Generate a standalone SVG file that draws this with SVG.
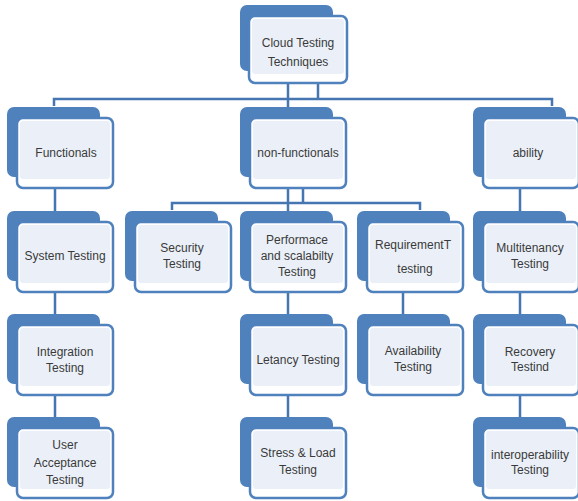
<svg xmlns="http://www.w3.org/2000/svg" width="578" height="501" viewBox="0 0 578 501">
  <style>
    .back { fill: #4f81bd; }
    .front { fill: #ffffff; stroke: #4f81bd; stroke-width: 2.5; }
    .inner { fill: #ebf0f8; }
    .link { fill: none; stroke: #4576b2; stroke-width: 2.5; }
    text { font-family: "Liberation Sans", Arial, sans-serif; font-size: 12px; fill: #3a3a3a; text-anchor: middle; }
  </style>
  <defs>
    <!-- stacked card: dark tab behind, light card in front -->
    <g id="card">
      <rect class="back" x="0" y="0" width="93" height="70" rx="7"/>
      <rect class="front" x="10" y="11" width="96" height="70" rx="6"/>
      <rect class="inner" x="13" y="14" width="90" height="58" rx="3"/>
    </g>
  </defs>

  <g id="connectors">
    <path class="link" d="M288,83 V99 M318,83 V99 M54,106 V99 H552 V106 M288,99 V107"/>
    <path class="link" d="M55,188 V211 M55,292 V314 M55,395 V417"/>
    <path class="link" d="M288,188 V203 M303,188 V203 M172,210 V203 H420 V210 M288,203 V211"/>
    <path class="link" d="M288,292 V314 M288,395 V417"/>
    <path class="link" d="M403,292 V314"/>
    <path class="link" d="M520,188 V211 M520,292 V314 M520,395 V417"/>
  </g>

  <g id="node-root">
    <rect class="back" x="240" y="5" width="93" height="66" rx="7"/>
    <rect class="front" x="249" y="16" width="98" height="67" rx="6"/>
    <rect class="inner" x="252" y="19" width="92" height="55" rx="3"/>
    <text x="298" y="47">Cloud Testing</text>
    <text x="298" y="66">Techniques</text>
  </g>

  <g id="node-functionals">
    <use href="#card" x="7" y="107"/>
    <text x="66" y="157">Functionals</text>
  </g>
  <g id="node-nonfunctionals">
    <use href="#card" x="240" y="107"/>
    <text x="298" y="157">non-functionals</text>
  </g>
  <g id="node-ability">
    <use href="#card" x="473" y="107"/>
    <text x="528" y="157">ability</text>
  </g>

  <g id="node-system">
    <use href="#card" x="7" y="211"/>
    <text x="65" y="260">System Testing</text>
  </g>
  <g id="node-security">
    <use href="#card" x="125" y="211"/>
    <text x="182" y="252">Security</text>
    <text x="182" y="268">Testing</text>
  </g>
  <g id="node-performance">
    <use href="#card" x="240" y="211"/>
    <text x="297" y="244">Performace</text>
    <text x="297" y="260">and scalabilty</text>
    <text x="297" y="276">Testing</text>
  </g>
  <g id="node-requirement">
    <use href="#card" x="357" y="211"/>
    <text x="413" y="249">RequirementT</text>
    <text x="415" y="273">testing</text>
  </g>
  <g id="node-multitenancy">
    <use href="#card" x="473" y="211"/>
    <text x="530" y="252">Multitenancy</text>
    <text x="530" y="268">Testing</text>
  </g>

  <g id="node-integration">
    <use href="#card" x="7" y="314"/>
    <text x="65" y="356">Integration</text>
    <text x="65" y="372">Testing</text>
  </g>
  <g id="node-latency">
    <use href="#card" x="240" y="314"/>
    <text x="298" y="364">Letancy Testing</text>
  </g>
  <g id="node-availability">
    <use href="#card" x="357" y="314"/>
    <text x="413" y="355">Availability</text>
    <text x="413" y="371">Testing</text>
  </g>
  <g id="node-recovery">
    <use href="#card" x="473" y="314"/>
    <text x="530" y="356">Recovery</text>
    <text x="530" y="371">Testind</text>
  </g>

  <g id="node-acceptance">
    <use href="#card" x="7" y="417"/>
    <text x="65" y="449">User</text>
    <text x="65" y="467">Acceptance</text>
    <text x="65" y="484">Testing</text>
  </g>
  <g id="node-stress">
    <use href="#card" x="240" y="417"/>
    <text x="298" y="457">Stress &amp; Load</text>
    <text x="298" y="474">Testing</text>
  </g>
  <g id="node-interoperability">
    <use href="#card" x="473" y="417"/>
    <text x="530" y="459">interoperability</text>
    <text x="530" y="474">Testing</text>
  </g>
</svg>
